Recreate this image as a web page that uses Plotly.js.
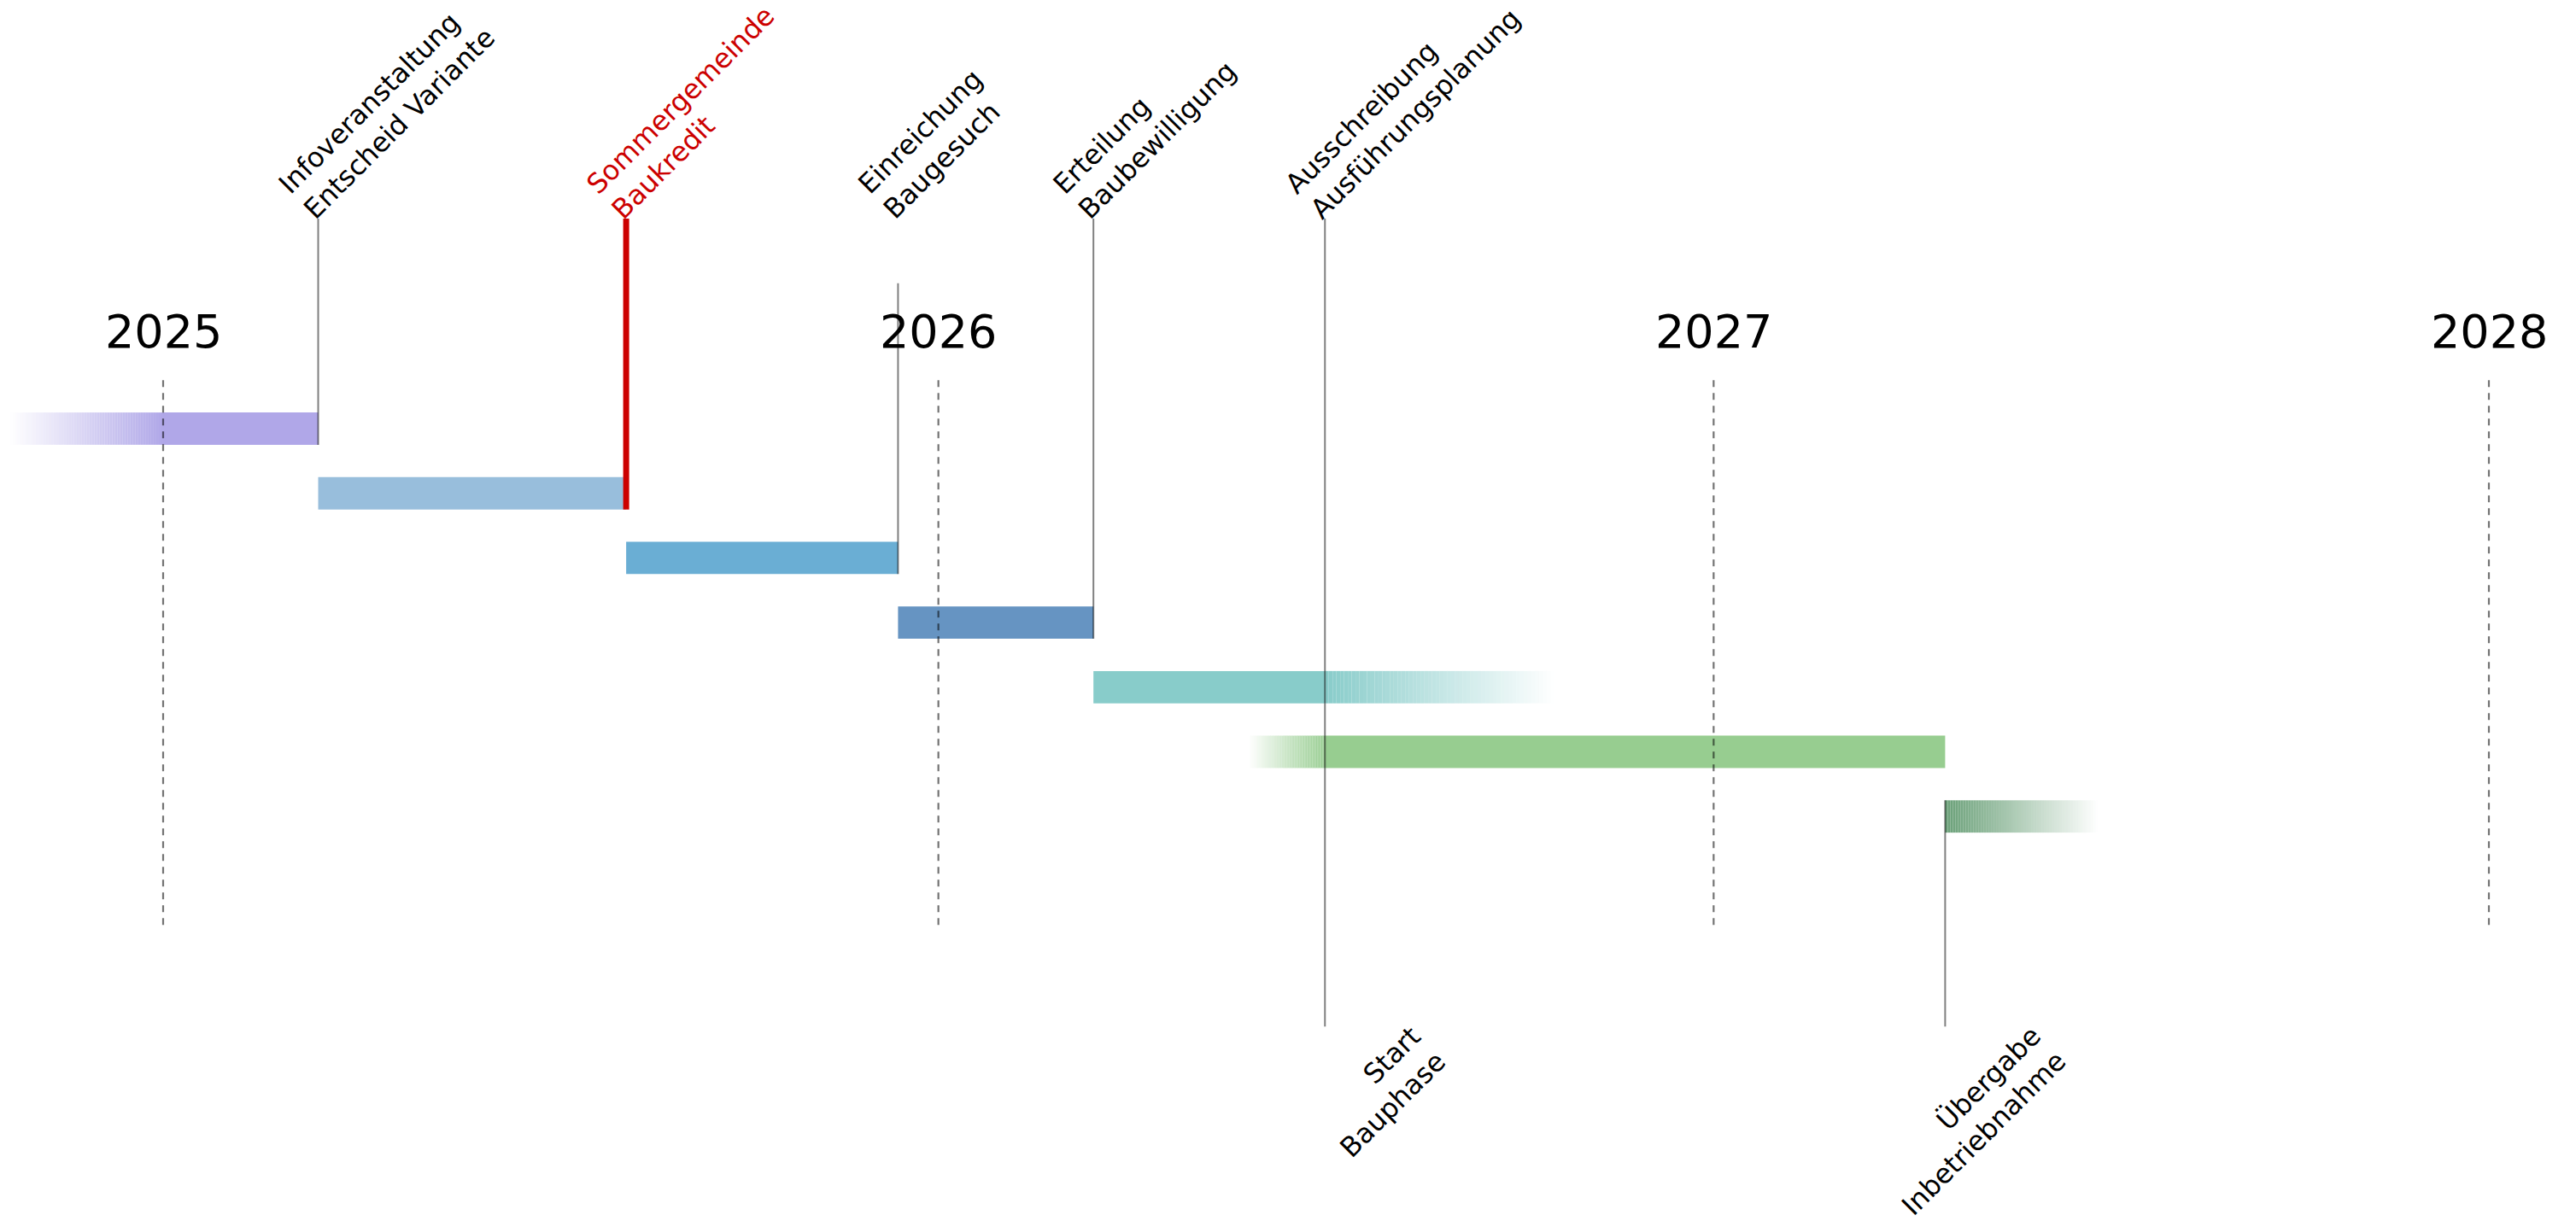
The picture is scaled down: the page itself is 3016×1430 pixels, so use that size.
<!DOCTYPE html>
<html>
<head>
<meta charset="utf-8">
<script src="https://cdn.plot.ly/plotly-3.0.1.min.js"></script>
<style>
  html, body { margin: 0; padding: 0; background: #ffffff; }
  #chart { width: 3016px; height: 1430px; }
</style>
</head>
<body>
<div id="chart"></div>
<script>
// ---------------- DATA ----------------
const yearLabels = ['2025', '2026', '2027', '2028'];
const yearDates  = ['2025-01-01', '2026-01-01', '2027-01-01', '2028-01-01'];

// project phases (one row each, top to bottom)
const phaseRow    = [0, 1, 2, 3, 4, 5, 6];
const phaseStart  = ['2024-10-21', '2025-03-15', '2025-08-07', '2025-12-13', '2026-03-15', '2026-05-27', '2027-04-20'];
const phaseEnd    = ['2025-03-15', '2025-08-07', '2025-12-13', '2026-03-15', '2026-10-18', '2027-04-20', '2027-07-01'];
const phaseFadeIn  = [72, 0, 0, 0, 0, 36, 0];    // days of fading-in at the start
const phaseFadeOut = [0, 0, 0, 0, 108, 0, 72];   // days of fading-out at the end
const phaseColors = ['#b0a7e8', '#98bedc', '#6aaed4', '#6694c2', '#88ccca', '#97cd90', '#6aa078'];

// milestones
const msDates  = ['2025-03-15', '2025-08-07', '2025-12-13', '2026-03-15', '2026-07-02', '2026-07-02', '2027-04-20'];
const msLabels = ['Infoveranstaltung<br>Entscheid Variante', 'Sommergemeinde<br>Baukredit',
                  'Einreichung<br>Baugesuch', 'Erteilung<br>Baubewilligung',
                  'Ausschreibung<br>Ausführungsplanung', 'Start<br>Bauphase', 'Übergabe<br>Inbetriebnahme'];
const msSide   = ['top', 'top', 'top', 'top', 'top', 'bottom', 'bottom'];
const msLineTop    = [-3.25, -3.25, -2.25, -3.25, -3.25, 4.25, 5.75];
const msLineBottom = [0.25, 1.25, 2.25, 3.25, 4.25, 9.25, 9.25];
const msHighlight  = [false, true, false, false, false, false, false];

// ---------------- LAYOUT GEOMETRY ----------------
const W = 3016, H = 1430;
const DAY = 86400000;
const ms = s => Date.parse(s + 'T00:00:00Z');
const iso = v => new Date(v).toISOString().slice(0, 19).replace('T', ' ');

const px2025 = 191, px2028 = 2914;
const pxPerDay = (px2028 - px2025) / ((ms('2028-01-01') - ms('2025-01-01')) / DAY);
const x0 = ms('2025-01-01') - px2025 / pxPerDay * DAY;
const x1 = x0 + W / pxPerDay * DAY;

const rowPx0 = 502, rowPitch = 75.7;
const yRange = [(H - rowPx0) / rowPitch, -rowPx0 / rowPitch];

const RED = '#cc0000';
const GREY = 'rgba(0,0,0,0.5)';
const FONT = 'DejaVu Sans';

function rgba(hex, a) {
  const r = parseInt(hex.slice(1, 3), 16), g = parseInt(hex.slice(3, 5), 16), b = parseInt(hex.slice(5, 7), 16);
  return `rgba(${r},${g},${b},${a.toFixed(3)})`;
}

// ---------------- TRACES ----------------
const solid = { base: [], x: [], y: [], color: [] };
const fade = { base: [], x: [], y: [], color: [] };
const NSEG = 60;

phaseRow.forEach((row, i) => {
  const s = ms(phaseStart[i]), e = ms(phaseEnd[i]);
  const sIn = s + phaseFadeIn[i] * DAY;
  const eOut = e - phaseFadeOut[i] * DAY;
  if (eOut > sIn) {
    solid.base.push(iso(sIn)); solid.x.push(eOut - sIn); solid.y.push(row); solid.color.push(phaseColors[i]);
  }
  if (phaseFadeIn[i] > 0) {
    const step = (sIn - s) / NSEG;
    for (let j = 0; j < NSEG; j++) {
      fade.base.push(iso(s + j * step)); fade.x.push(step); fade.y.push(row);
      fade.color.push(rgba(phaseColors[i], (j + 0.5) / NSEG));
    }
  }
  if (phaseFadeOut[i] > 0) {
    const step = (e - eOut) / NSEG;
    for (let j = 0; j < NSEG; j++) {
      fade.base.push(iso(eOut + j * step)); fade.x.push(step); fade.y.push(row);
      fade.color.push(rgba(phaseColors[i], 1 - (j + 0.5) / NSEG));
    }
  }
});

const barCommon = { type: 'bar', orientation: 'h', width: 0.5, hoverinfo: 'skip', showlegend: false };
const traces = [
  Object.assign({}, barCommon, { base: solid.base, x: solid.x, y: solid.y, marker: { color: solid.color, line: { width: 0 } } }),
  Object.assign({}, barCommon, { base: fade.base, x: fade.x, y: fade.y, marker: { color: fade.color, line: { width: 0 } } })
];

// year dashed lines
const yl = { x: [], y: [] };
yearDates.forEach(d => { yl.x.push(d, d, null); yl.y.push(-0.75, 7.75, null); });
traces.push({ type: 'scatter', mode: 'lines', x: yl.x, y: yl.y, hoverinfo: 'skip', showlegend: false,
  line: { color: 'rgba(0,0,0,0.55)', width: 2.2, dash: '8px,7px' } });

// milestone lines
const gl = { x: [], y: [] }, rl = { x: [], y: [] };
msDates.forEach((d, i) => {
  const tgt = msHighlight[i] ? rl : gl;
  tgt.x.push(d, d, null); tgt.y.push(msLineTop[i], msLineBottom[i], null);
});
traces.push({ type: 'scatter', mode: 'lines', x: gl.x, y: gl.y, hoverinfo: 'skip', showlegend: false,
  line: { color: GREY, width: 2 } });
traces.push({ type: 'scatter', mode: 'lines', x: rl.x, y: rl.y, hoverinfo: 'skip', showlegend: false,
  line: { color: RED, width: 7 } });

// ---------------- ANNOTATIONS ----------------
const annotations = [];
yearLabels.forEach((lab, i) => {
  annotations.push({ x: yearDates[i], y: -1.5, xref: 'x', yref: 'y', text: lab, showarrow: false,
    xanchor: 'center', yanchor: 'middle', font: { family: FONT, size: 54, color: '#000' } });
});
msLabels.forEach((lab, i) => {
  const top = msSide[i] === 'top';
  annotations.push({
    x: msDates[i], xref: 'x', yref: 'y',
    y: top ? msLineTop[0] : msLineBottom[i],
    text: lab, showarrow: false, textangle: -45,
    align: top ? 'left' : 'right',
    xanchor: top ? 'left' : 'right',
    yanchor: top ? 'bottom' : 'top',
    xshift: top ? -57 : 152,
    yshift: top ? -11 : 10,
    font: { family: FONT, size: 32, color: msHighlight[i] ? RED : '#000' }
  });
});

const layout = {
  width: W, height: H,
  margin: { l: 0, r: 0, t: 0, b: 0, pad: 0 },
  paper_bgcolor: '#ffffff', plot_bgcolor: '#ffffff',
  barmode: 'overlay',
  showlegend: false,
  xaxis: { type: 'date', range: [iso(x0), iso(x1)], visible: false, showgrid: false, zeroline: false, fixedrange: true },
  yaxis: { type: 'linear', range: yRange, visible: false, showgrid: false, zeroline: false, fixedrange: true },
  annotations: annotations
};

Plotly.newPlot('chart', traces, layout, { staticPlot: true, displayModeBar: false });
</script>
</body>
</html>
